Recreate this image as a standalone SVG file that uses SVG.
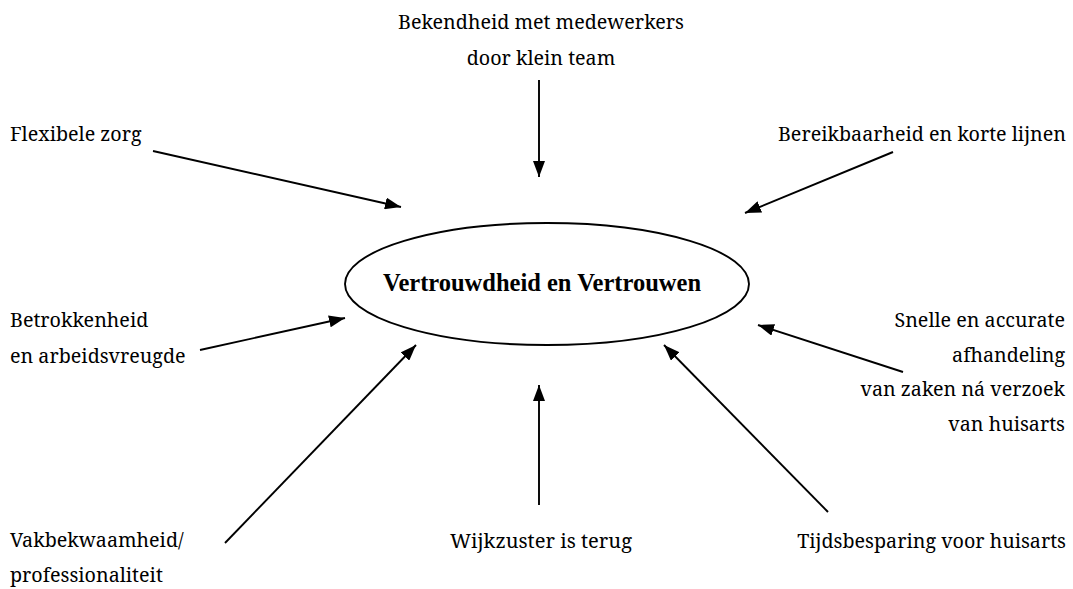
<svg xmlns="http://www.w3.org/2000/svg" width="1073" height="589" viewBox="0 0 1073 589">
<defs>
<style>
text{font-family:'Noto Serif','DejaVu Serif',serif;font-size:19.7px;fill:#000}
.t{font-weight:bold;font-size:24.5px;font-family:'Liberation Serif','Noto Serif',serif}
.c{stroke:#000;stroke-width:1.9;fill:none}
</style>
<marker id="ah" viewBox="0 0 10 10" refX="10" refY="5" markerWidth="16" markerHeight="12" markerUnits="userSpaceOnUse" orient="auto" preserveAspectRatio="none">
<path d="M0,0 L10,5 L0,10 z" fill="#000"/>
</marker>
</defs>
<rect width="1073" height="589" fill="#fff"/>
<g id="center">
<ellipse cx="547" cy="284" rx="202" ry="61" fill="none" stroke="#000" stroke-width="1.9"/>
<text class="t" x="542" y="291" text-anchor="middle">Vertrouwdheid en Vertrouwen</text>
</g>
<g id="n-bekendheid"><text x="541" y="29" text-anchor="middle">Bekendheid met medewerkers</text><text x="541" y="65" text-anchor="middle">door klein team</text></g>
<g id="n-flexibel"><text x="10" y="141">Flexibele zorg</text></g>
<g id="n-bereik"><text x="1066" y="141" text-anchor="end">Bereikbaarheid en korte lijnen</text></g>
<g id="n-betrokken"><text x="10" y="327">Betrokkenheid</text><text x="10" y="363">en arbeidsvreugde</text></g>
<g id="n-snelle"><text x="1065" y="327" text-anchor="end">Snelle en accurate</text><text x="1065" y="362" text-anchor="end">afhandeling</text><text x="1065" y="396" text-anchor="end">van zaken ná verzoek</text><text x="1065" y="431" text-anchor="end">van huisarts</text></g>
<g id="n-vak"><text x="10" y="547">Vakbekwaamheid/</text><text x="10" y="582">professionaliteit</text></g>
<g id="n-wijk"><text x="541" y="548" text-anchor="middle" textLength="182" lengthAdjust="spacingAndGlyphs">Wijkzuster is terug</text></g>
<g id="n-tijd"><text x="1066" y="548" text-anchor="end">Tijdsbesparing voor huisarts</text></g>
<g id="connectors">
<line class="c" x1="539" y1="80" x2="539" y2="177" marker-end="url(#ah)"/>
<line class="c" x1="153" y1="151" x2="401" y2="207" marker-end="url(#ah)"/>
<line class="c" x1="893" y1="152" x2="745" y2="213" marker-end="url(#ah)"/>
<line class="c" x1="200" y1="350" x2="345" y2="318" marker-end="url(#ah)"/>
<line class="c" x1="903" y1="372" x2="758" y2="325" marker-end="url(#ah)"/>
<line class="c" x1="225" y1="543" x2="416" y2="345" marker-end="url(#ah)"/>
<line class="c" x1="539" y1="505" x2="539" y2="385" marker-end="url(#ah)"/>
<line class="c" x1="828" y1="512" x2="664" y2="345" marker-end="url(#ah)"/>
</g>
</svg>
